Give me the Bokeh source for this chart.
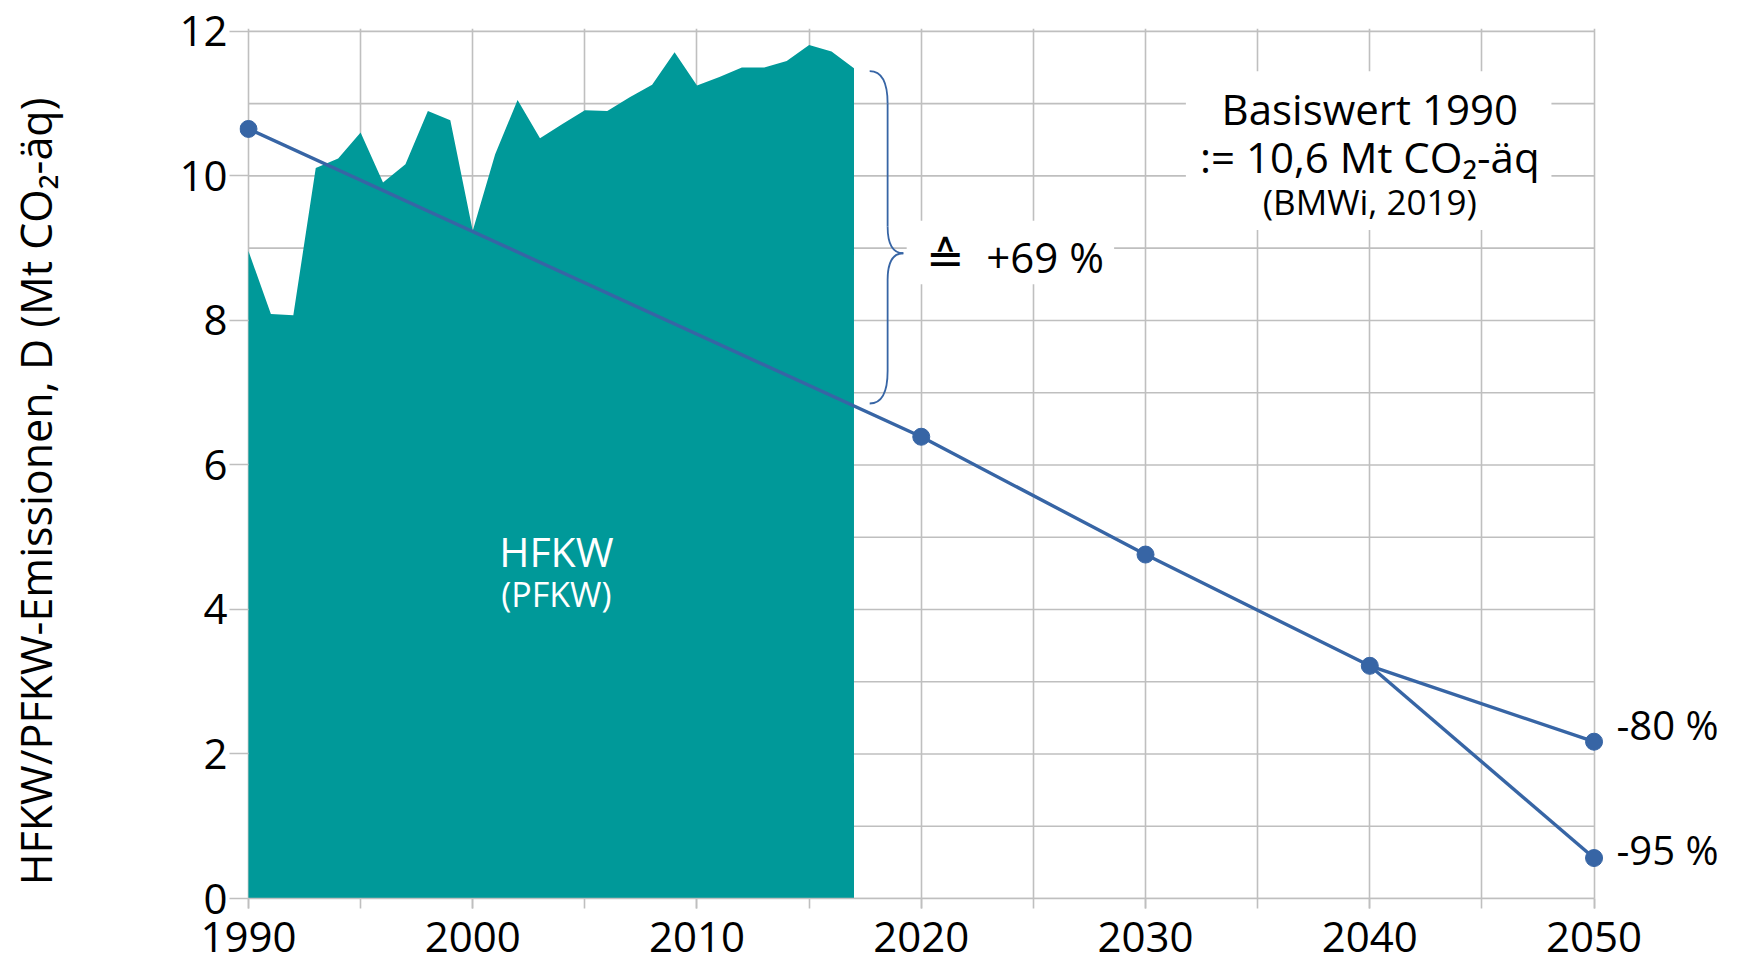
from bokeh.plotting import figure
from bokeh.models import Range1d, SingleIntervalTicker, FixedTicker, Label, BoxAnnotation, LinearAxis
from bokeh.embed import file_html
from bokeh.resources import INLINE

# ---- data ----
area_years = list(range(1990, 2018))
area_vals = [8.96, 8.09, 8.07, 10.11, 10.24, 10.60, 9.91, 10.16, 10.90, 10.77,
             9.24, 10.30, 11.05, 10.52, 10.72, 10.91, 10.90, 11.09, 11.26, 11.71,
             11.25, 11.37, 11.50, 11.50, 11.59, 11.81, 11.72, 11.49]

path_years = [1990, 2020, 2030, 2040, 2050]
path_vals = [10.65, 6.39, 4.76, 3.22, 2.17]
branch_years = [2040, 2050]
branch_vals = [3.22, 0.56]

y_ticks = [0, 2, 4, 6, 8, 10, 12]
y_grid = list(range(0, 13))
end_label_pos = [2.41, 0.68]
end_label_text = ["-80 %", "-95 %"]

FONT = "Open Sans"
TEAL = "#009999"
BLUE = "#3765A5"
GRID = "#BFBFBF"

p = figure(frame_width=1368, frame_height=870,
           x_range=Range1d(1989.6, 2050.6), y_range=Range1d(0, 12.04),
           output_backend="svg", toolbar_location=None,
           min_border_left=239, min_border_top=28, min_border_right=114,
           min_border_bottom=68)
p.outline_line_color = None
p.background_fill_color = "white"

# grid
p.ygrid.visible = False
p.segment(x0=[1990] * len(y_grid), y0=y_grid, x1=[2050] * len(y_grid), y1=y_grid,
          line_color=GRID, line_width=1.6, level="underlay")
p.xgrid.ticker = SingleIntervalTicker(interval=5)
p.xgrid.grid_line_color = GRID
p.xgrid.grid_line_width = 1.6

# x axis
p.xaxis.ticker = SingleIntervalTicker(interval=10, num_minor_ticks=2)
p.xaxis.bounds = (1990, 2050)
p.xaxis.axis_line_color = GRID
p.xaxis.axis_line_width = 1.6
p.xaxis.major_tick_line_color = GRID
p.xaxis.minor_tick_line_color = GRID
p.xaxis.major_tick_line_width = 1.6
p.xaxis.minor_tick_line_width = 1.6
p.xaxis.major_tick_in = 0
p.xaxis.major_tick_out = 10
p.xaxis.minor_tick_in = 0
p.xaxis.minor_tick_out = 10
p.xaxis.major_label_standoff = 13
p.xaxis.major_label_text_font = FONT
p.xaxis.major_label_text_font_size = "42px"
p.xaxis.major_label_text_color = "black"

# y axis (ticks + labels)
p.yaxis.ticker = FixedTicker(ticks=y_ticks)
p.yaxis.axis_line_color = None
p.yaxis.major_tick_line_color = GRID
p.yaxis.major_tick_line_width = 1.6
p.yaxis.major_tick_in = 9
p.yaxis.major_tick_out = 10
p.yaxis.minor_tick_line_color = None
p.yaxis.major_label_standoff = 2
p.yaxis.major_label_text_font = FONT
p.yaxis.major_label_text_font_size = "42px"
p.yaxis.major_label_text_color = "black"

# outer left axis carrying only the axis title; trailing no-break spaces
# shift the visible title slightly below the frame centre as in the reference
ytitle_axis = LinearAxis(ticker=FixedTicker(ticks=[]))
ytitle_axis.axis_line_color = None
ytitle_axis.major_tick_line_color = None
ytitle_axis.minor_tick_line_color = None
ytitle_axis.major_tick_out = 0
ytitle_axis.major_tick_in = 0
ytitle_axis.minor_tick_out = 0
ytitle_axis.major_label_standoff = 0
ytitle_axis.axis_label = "HFKW/PFKW-Emissionen, D (Mt CO\u2082-äq)" + "\u00a0" * 5
ytitle_axis.axis_label_text_font = FONT
ytitle_axis.axis_label_text_font_size = "43px"
ytitle_axis.axis_label_text_font_style = "normal"
ytitle_axis.axis_label_text_color = "black"
ytitle_axis.axis_label_standoff = 112
p.add_layout(ytitle_axis, "left")

# right-side labels for the 2050 targets
right = LinearAxis(ticker=FixedTicker(ticks=end_label_pos),
                   major_label_overrides=dict(zip(end_label_pos, end_label_text)))
right.axis_line_color = None
right.major_tick_line_color = None
right.minor_tick_line_color = None
right.major_tick_out = 0
right.major_tick_in = 0
right.major_label_standoff = 9
right.major_label_text_font = FONT
right.major_label_text_font_size = "40px"
right.major_label_text_color = "black"
p.add_layout(right, "right")

# area
p.varea(x=area_years, y1=[0] * len(area_years), y2=area_vals, fill_color=TEAL)

# target path
p.line(x=path_years, y=path_vals, line_color=BLUE, line_width=3.4)
p.line(x=branch_years, y=branch_vals, line_color=BLUE, line_width=3.4)
p.scatter(x=path_years + branch_years[1:], y=path_vals + branch_vals[1:],
          size=17, fill_color=BLUE, line_color=BLUE)

# brace
p.quadratic(x0=[2017.7, 2018.5, 2019.2, 2018.5], y0=[11.45, 9.3, 8.93, 7.3],
            x1=[2018.5, 2019.2, 2018.5, 2017.7], y1=[11.0, 8.93, 8.56, 6.85],
            cx=[2018.5, 2018.5, 2018.5, 2018.5], cy=[11.45, 8.93, 8.93, 6.85],
            line_color=BLUE, line_width=1.8)
p.segment(x0=[2018.5, 2018.5], y0=[11.0, 8.56], x1=[2018.5, 2018.5], y1=[9.3, 7.3],
          line_color=BLUE, line_width=1.8)

# white boxes behind annotations
p.add_layout(BoxAnnotation(left=2031.8, right=2048.1, bottom=9.25, top=11.45,
                           fill_color="white", fill_alpha=1, line_color=None, level="underlay"))
p.add_layout(BoxAnnotation(left=2019.35, right=2028.6, bottom=8.5, top=9.38,
                           fill_color="white", fill_alpha=1, line_color=None, level="underlay"))


def lab(x, y, text, size, color="black", align="center"):
    p.add_layout(Label(x=x, y=y, text=text, text_font=FONT, text_font_size=size,
                       text_color=color, text_align=align, text_baseline="middle"))


lab(2040.0, 10.93, "Basiswert 1990", "42px")
lab(2040.0, 10.27, ":= 10,6 Mt CO\u2082-äq", "42px")
lab(2040.0, 9.65, "(BMWi, 2019)", "35px")
lab(2021.1, 8.89, "\u2259", "46px")
lab(2022.9, 8.89, "+69 %", "42px", align="left")
lab(2003.73, 4.81, "HFKW", "41px", color="white")
lab(2003.73, 4.21, "(PFKW)", "34px", color="white")

open("out.html", "w").write(file_html(p, INLINE))
